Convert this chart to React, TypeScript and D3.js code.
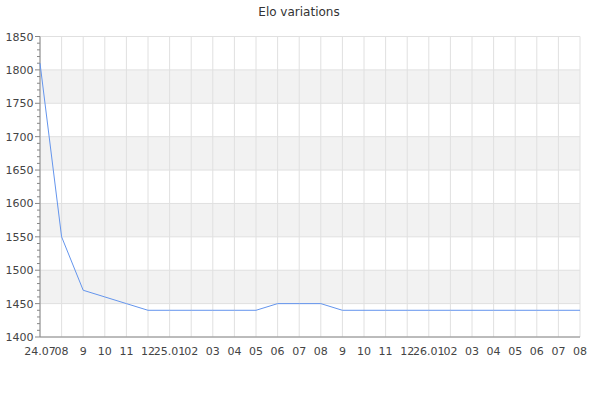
import React from "react";
import * as d3 from "d3";

const labels = ["24.07","08","9","10","11","12","25.01","02","03","04","05","06","07","08","9","10","11","12","26.01","02","03","04","05","06","07","08"];
const elo = [1810,1550,1470,1460,1450,1440,1440,1440,1440,1440,1440,1450,1450,1450,1440,1440,1440,1440,1440,1440,1440,1440,1440,1440,1440,1440];
const yTicks = [1400,1450,1500,1550,1600,1650,1700,1750,1800,1850];
const bands = [[1450,1500],[1550,1600],[1650,1700],[1750,1800]];
const title = "Elo variations";

export default function App() {
  const W = 600, H = 400;
  const left = 40, right = 580, top = 36.5, bottom = 337;
  const x = d3.scaleLinear().domain([0, labels.length - 1]).range([left, right]);
  const y = d3.scaleLinear().domain([1400, 1850]).range([bottom, top]);
  const line = d3.line<number>().x((_, i) => x(i)).y((d) => y(d));
  const minor = d3.range(1400, 1851, 10);
  const font = "DejaVu Sans, sans-serif";
  return (
    <svg width={W} height={H} style={{ position: "absolute", left: 0, top: 0, background: "#fff" }}>
      <rect x={0} y={0} width={W} height={H} fill="#fff" />
      <text x={299} y={16} textAnchor="middle" fontFamily={font} fontSize={12} fill="#333">{title}</text>
      {bands.map(([a, b], i) => (
        <rect key={i} x={left} y={y(b)} width={right - left} height={y(a) - y(b)} fill="#f2f2f2" />
      ))}
      {yTicks.map((t) => (
        <line key={"h" + t} x1={left} x2={right} y1={y(t)} y2={y(t)} stroke="#e0e0e0" strokeWidth={1} />
      ))}
      {labels.map((_, i) => (
        <line key={"v" + i} x1={x(i)} x2={x(i)} y1={top} y2={bottom} stroke="#e0e0e0" strokeWidth={1} />
      ))}
      {minor.map((t) => (
        <line key={"m" + t} x1={left - (t % 50 === 0 ? 5 : 3)} x2={left} y1={y(t)} y2={y(t)} stroke="#888" strokeWidth={1} />
      ))}
      <line x1={left} x2={left} y1={top} y2={bottom} stroke="#888" strokeWidth={1} />
      <line x1={left} x2={right} y1={bottom} y2={bottom} stroke="#888" strokeWidth={1} />
      {yTicks.map((t) => (
        <text key={"yl" + t} x={33.5} y={y(t) + 4} textAnchor="end" fontFamily={font} fontSize={11} fill="#444">{t}</text>
      ))}
      {labels.map((l, i) => (
        <text key={"xl" + i} x={x(i)} y={355} textAnchor="middle" fontFamily={font} fontSize={11} fill="#444">{l}</text>
      ))}
      <path d={line(elo) || ""} fill="none" stroke="#6495ed" strokeWidth={1} />
    </svg>
  );
}
